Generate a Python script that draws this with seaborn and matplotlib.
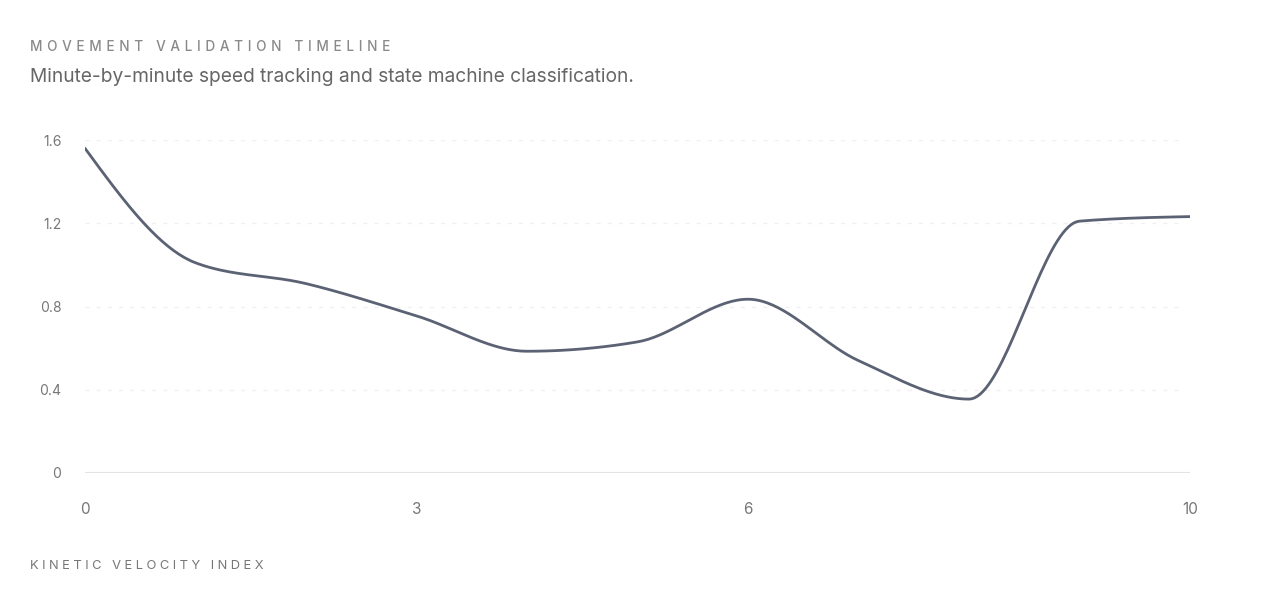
import numpy as np
import pandas as pd
import matplotlib
matplotlib.use("Agg")
import matplotlib.pyplot as plt
import seaborn as sns

# minute-by-minute kinetic velocity index
minutes = [0, 1, 2, 3, 4, 5, 6, 7, 8, 9, 10]
velocity = [1.56, 1.01, 0.91, 0.755, 0.585, 0.63, 0.835, 0.54, 0.355, 1.21, 1.232]

x_ticks = [0, 3, 6, 10]
y_ticks = [0, 0.4, 0.8, 1.2, 1.6]
y_tick_labels = ["0", "0.4", "0.8", "1.2", "1.6"]


def monotone_curve(xs, ys, n=40):
    # same smoothing as d3 curveMonotoneX, just for drawing the line
    xs = np.asarray(xs, float)
    ys = np.asarray(ys, float)
    h = np.diff(xs)
    s = np.diff(ys) / h
    t = np.zeros(len(xs))
    for i in range(1, len(xs) - 1):
        p = (s[i - 1] * h[i] + s[i] * h[i - 1]) / (h[i - 1] + h[i])
        t[i] = (np.sign(s[i - 1]) + np.sign(s[i])) * min(abs(s[i - 1]), abs(s[i]), 0.5 * abs(p))
    t[0] = (3 * s[0] - t[1]) / 2
    t[-1] = (3 * s[-1] - t[-2]) / 2
    out_x, out_y = [], []
    for i in range(len(xs) - 1):
        u = np.linspace(0, 1, n, endpoint=(i == len(xs) - 2))
        h00 = 2 * u**3 - 3 * u**2 + 1
        h10 = u**3 - 2 * u**2 + u
        h01 = -2 * u**3 + 3 * u**2
        h11 = u**3 - u**2
        out_x.append(xs[i] + u * h[i])
        out_y.append(h00 * ys[i] + h10 * h[i] * t[i] + h01 * ys[i + 1] + h11 * h[i] * t[i + 1])
    return np.concatenate(out_x), np.concatenate(out_y)


def tracked(s, gap="\u2009\u200a"):
    # fake css letter-spacing with thin spaces
    return gap.join(s)


sns.set_style("white")
plt.rcParams["font.family"] = ["Inter", "DejaVu Sans"]

cx, cy = monotone_curve(minutes, velocity)
df = pd.DataFrame({"Minute": cx, "Velocity": cy})

fig = plt.figure(figsize=(12.64, 6.14), dpi=100)
ax = fig.add_axes([85 / 1264, 1 - 473 / 614, (1190 - 85) / 1264, (473 - 140) / 614])

for yv in y_ticks[1:]:
    ax.axhline(yv, color="#f0f0f0", lw=1, ls=(0, (3, 5)), xmax=0.991, zorder=0)
ax.axhline(0, color="#e3e3e3", lw=1.5, zorder=0)

sns.lineplot(data=df, x="Minute", y="Velocity", ax=ax, color="#5b6273", lw=2, sort=False)

ax.set_xlim(0, 10)
ax.set_ylim(0, 1.6)
ax.set_xticks(x_ticks)
ax.set_xticklabels([str(v) for v in x_ticks])
ax.set_yticks(y_ticks)
ax.set_yticklabels(y_tick_labels)
ax.tick_params(axis="x", length=0, pad=21, labelsize=11, labelcolor="#777777")
ax.tick_params(axis="y", length=0, pad=17, labelsize=10, labelcolor="#777777")
ax.set_xlabel("")
ax.set_ylabel("")
sns.despine(ax=ax, left=True, bottom=True)

fig.text(30 / 1264, 1 - 47 / 614, tracked("MOVEMENT VALIDATION TIMELINE", "\u2009\u200a\u200a"),
         fontsize=9.8, color="#8a8a8a", va="center", ha="left", fontweight="medium")
fig.text(30 / 1264, 1 - 77 / 614, "Minute-by-minute speed tracking and state machine classification.",
         fontsize=13.8, color="#666666", va="center", ha="left")
fig.text(30 / 1264, 1 - 566 / 614, tracked("KINETIC VELOCITY INDEX"), fontsize=9.3,
         color="#777777", va="center", ha="left")

fig.savefig("out.png", dpi=100)
